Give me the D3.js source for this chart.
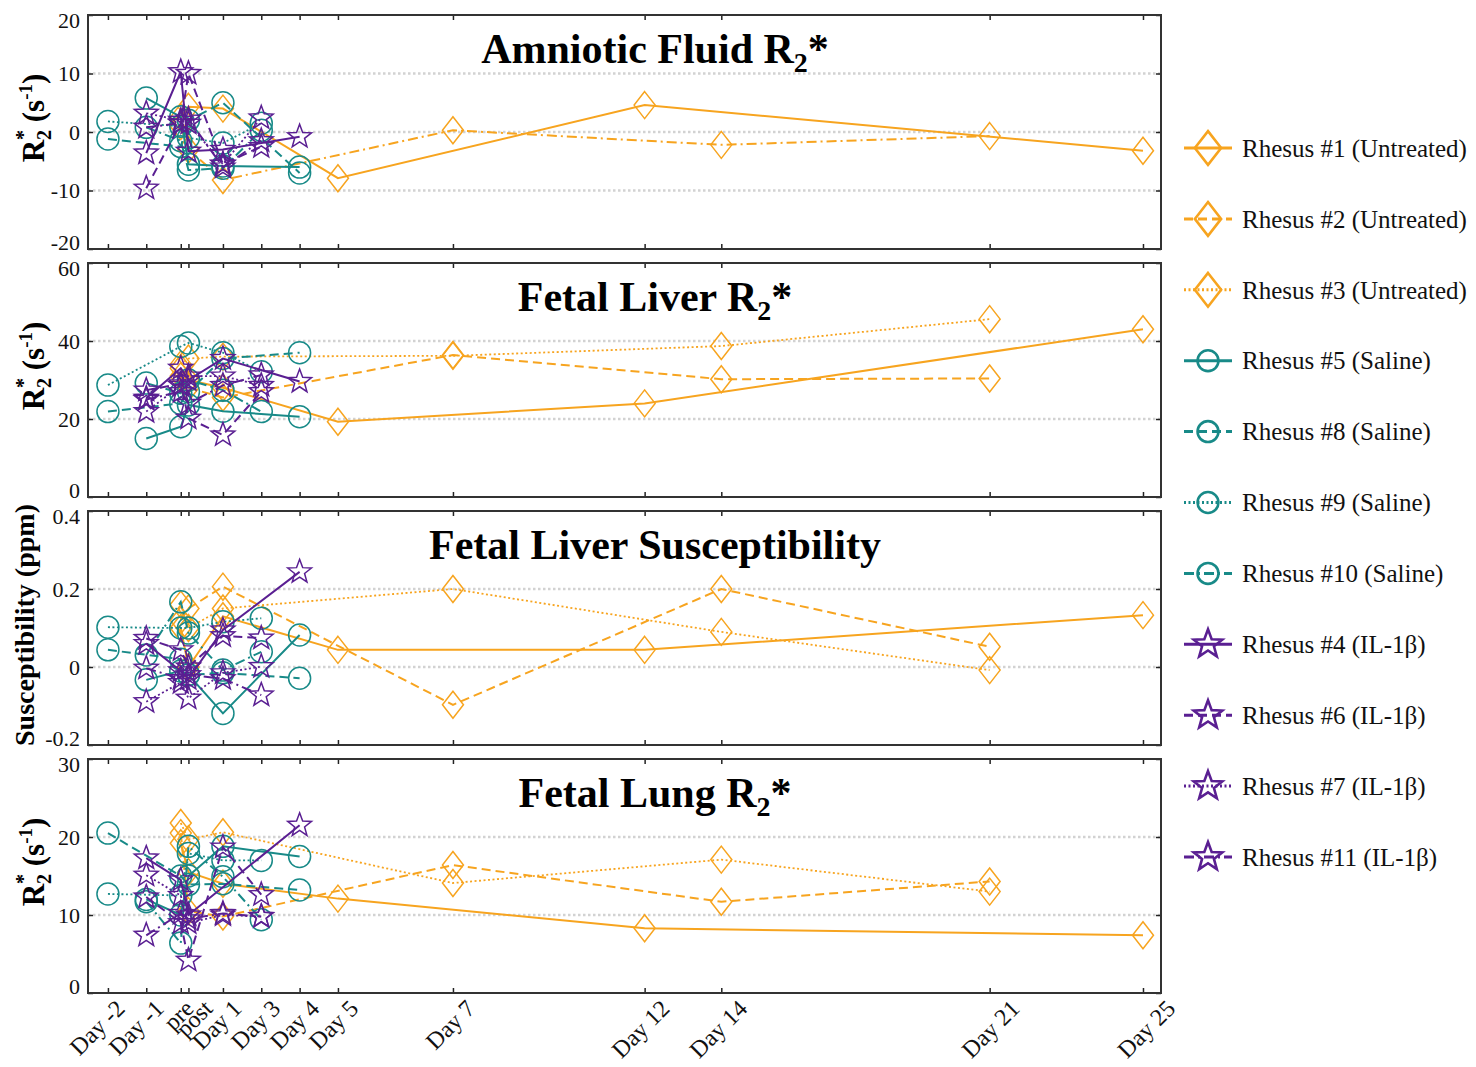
<!DOCTYPE html>
<html><head><meta charset="utf-8">
<script src="https://cdn.jsdelivr.net/npm/d3@7"></script>
<style>body{margin:0;background:#fff} svg{display:block}</style>
</head><body><svg id="c" width="1476" height="1067"></svg>
<script>
// ---------------- DATA ----------------
const dayLabels = ["Day -2","Day -1","pre","post","Day 1","Day 3","Day 4","Day 5","Day 7","Day 12","Day 14","Day 21","Day 25"];
const dayPositions = [-2,-1,-0.1,0.1,1,2,3,4,7,12,14,21,25];
const seriesNames = ["Rhesus #1 (Untreated)","Rhesus #2 (Untreated)","Rhesus #3 (Untreated)",
  "Rhesus #5 (Saline)","Rhesus #8 (Saline)","Rhesus #9 (Saline)","Rhesus #10 (Saline)",
  "Rhesus #4 (IL-1\u03b2)","Rhesus #6 (IL-1\u03b2)","Rhesus #7 (IL-1\u03b2)","Rhesus #11 (IL-1\u03b2)"];
// rows follow seriesNames; columns follow dayLabels (null = not measured)
const amnioticFluidR2 = [
  [null,null,2.5,4.3,4.0,null,null,-7.9,null,4.6,null,null,-3.2],
  [null,null,1.0,-3.0,-8.2,null,null,null,0.3,null,-2.2,-0.7,null],
  [null,null,null,null,null,null,null,null,null,null,null,null,null],
  [null,5.8,2.6,-5.5,-5.8,null,-6.0,null,null,null,null,null,null],
  [-1.2,null,-2.5,2.0,5.0,null,-7.0,null,null,null,null,null,null],
  [1.8,null,1.0,-1.0,-1.9,1.5,null,null,null,null,null,null,null],
  [null,0.8,-1.5,-6.5,-6.2,0.3,null,null,null,null,null,null,null],
  [null,-3.6,10.3,-3.3,-3.0,null,-0.8,null,null,null,null,null,null],
  [null,-9.6,1.5,10.0,-5.5,-2.5,null,null,null,null,null,null,null],
  [null,3.2,2.0,1.5,-5.5,2.4,null,null,null,null,null,null,null],
  [null,0.8,1.5,2.2,-6.0,-1.5,null,null,null,null,null,null,null]
];
const fetalLiverR2 = [
  [null,null,33,30,28,null,null,19.3,null,24,null,null,43],
  [null,null,31,28,25.5,null,null,null,36.4,null,30.2,30.4,null],
  [null,null,34,35.5,36,null,null,null,36.2,null,38.7,45.6,null],
  [null,15,18,23.6,22,null,20.6,null,null,null,null,null,null],
  [21.9,null,24,27,35.5,null,37,null,null,null,null,null,null],
  [28.7,null,38.6,39.5,37,32.1,null,null,null,null,null,null,null],
  [null,29.2,26.6,30,27.4,21.9,null,null,null,null,null,null,null],
  [null,25.3,33,30,35.5,null,29.6,null,null,null,null,null,null],
  [null,27.4,29,20.2,15.9,27,null,null,null,null,null,null,null],
  [null,21.9,28.6,31,31,28.6,null,null,null,null,null,null,null],
  [null,25,27,24,28.6,31.3,null,null,null,null,null,null,null]
];
const fetalLiverSusceptibility = [
  [null,null,0.1,0.0,0.13,null,null,0.044,null,0.044,null,null,0.133],
  [null,null,0.12,0.15,0.206,null,null,null,-0.097,null,0.2,0.052,null],
  [null,null,0.16,0.1,0.15,null,null,null,0.2,null,0.09,-0.008,null],
  [null,-0.033,-0.01,-0.02,-0.119,null,0.082,null,null,null,null,null,null],
  [0.044,null,0.02,-0.02,-0.015,null,-0.029,null,null,null,null,null,null],
  [0.102,null,0.1,0.1,0.116,0.125,null,null,null,null,null,null,null],
  [null,0.031,0.167,0.087,-0.008,0.039,null,null,null,null,null,null,null],
  [null,0.06,-0.01,-0.03,0.095,null,0.244,null,null,null,null,null,null],
  [null,0.073,0.044,0.0,0.08,0.074,null,null,null,null,null,null,null],
  [null,-0.089,-0.04,-0.08,-0.015,0.001,null,null,null,null,null,null,null],
  [null,-0.003,-0.03,-0.02,-0.03,-0.072,null,null,null,null,null,null,null]
];
const fetalLungR2 = [
  [null,null,19.2,15.5,14,null,null,12.1,null,8.3,null,null,7.4],
  [null,null,20.5,10.5,9.8,null,null,null,16.4,null,11.7,14.3,null],
  [null,null,21.8,19.7,20.6,null,null,null,14.1,null,17.1,13,null],
  [null,12,10,15,18.8,null,17.5,null,null,null,null,null,null],
  [20.5,null,15,13.9,14,null,13.2,null,null,null,null,null,null],
  [12.7,null,12.5,17.9,17,17,null,null,null,null,null,null,null],
  [null,11.7,6.4,18.8,14.9,9.4,null,null,null,null,null,null,null],
  [null,17.3,14.5,10,null,null,21.5,null,null,null,null,null,null],
  [null,12.3,9,4.2,18.7,12.6,null,null,null,null,null,null,null],
  [null,15.1,12.5,9,10,9.8,null,null,null,null,null,null,null],
  [null,7.4,10.2,9.5,10.2,9.8,null,null,null,null,null,null,null]
];
const amnioticTicks = [-20,-10,0,10,20];
const liverR2Ticks = [0,20,40,60];
const susceptibilityTicks = [-0.2,0,0.2,0.4];
const lungR2Ticks = [0,10,20,30];

// ---------------- STYLE ----------------
const ORANGE = "#F7A41F", TEAL = "#188A88", PURPLE = "#5A1F92";
const seriesColor = i => i < 3 ? ORANGE : (i < 7 ? TEAL : PURPLE);
const seriesShape = i => i < 3 ? "diamond" : (i < 7 ? "circle" : "star");
const lineKinds = [0,1,2,0,1,2,3,0,1,2,3]; // solid, dashed, dotted, dash-dot
const dashes = [null, "9,5", "2,2.5", "10,4,2,4"];
const labelNudge = {"pre": -5, "post": 6};

const panels = [
  {data: amnioticFluidR2, domain:[-20,20], ticks: amnioticTicks, title:["Amniotic Fluid R","2","*"], ylab:"r2", kindOverride:{1:3}},
  {data: fetalLiverR2, domain:[0,60], ticks: liverR2Ticks, title:["Fetal Liver R","2","*"], ylab:"r2"},
  {data: fetalLiverSusceptibility, domain:[-0.2,0.4], ticks: susceptibilityTicks, title:["Fetal Liver Susceptibility"], ylab:"sus"},
  {data: fetalLungR2, domain:[0,30], ticks: lungR2Ticks, title:["Fetal Lung R","2","*"], ylab:"r2"}
];

const svg = d3.select("#c");
const X0 = 88, X1 = 1161;
const x = d3.scaleLinear().domain([-2.52, 25.47]).range([X0, X1]);
// rotated day labels drift slightly right of their ticks across the axis
const xLabel = d3.scaleLinear().domain(x.domain()).range([X0 + 18, X1 + 34]);
const panelTop = [15, 263, 511, 759], panelH = 234;
const SERIF = "'Liberation Serif','Times New Roman',serif";

function markerPath(shape, s) {
  if (shape === "diamond") { const w = 10.5*s, h = 13.5*s; return `M0,${-h}L${w},0L0,${h}L${-w},0Z`; }
  if (shape === "circle") { const r = 11*s; return `M${r},0A${r},${r} 0 1,1 ${-r},0A${r},${r} 0 1,1 ${r},0Z`; }
  const R = 12.5*s, r = 5.2*s; let p = "";
  for (let k = 0; k < 10; k++) {
    const a = -Math.PI/2 + k*Math.PI/5, rr = k%2 ? r : R;
    p += (k ? "L" : "M") + (rr*Math.cos(a)).toFixed(2) + "," + (rr*Math.sin(a)).toFixed(2);
  }
  return p + "Z";
}

panels.forEach((p, pi) => {
  const top = panelTop[pi], bot = top + panelH;
  const y = d3.scaleLinear().domain(p.domain).range([bot, top]);
  const g = svg.append("g");
  // grid
  g.selectAll(".grid").data(p.ticks.filter(t => t > p.domain[0] && t < p.domain[1])).join("line")
    .attr("x1", X0).attr("x2", X1).attr("y1", d => y(d)).attr("y2", d => y(d))
    .attr("stroke", "#d2d2d2").attr("stroke-width", 2.6).attr("stroke-dasharray", "2.5,2.5");
  // axes ticks
  const fmt = d => String(d);
  const la = g.append("g").attr("transform", `translate(${X0},0)`)
    .call(d3.axisLeft(y).tickValues(p.ticks).tickSize(-5).tickPadding(8).tickFormat(fmt));
  la.select(".domain").remove();
  la.selectAll("text").attr("font-family", SERIF).attr("font-size", 22).attr("fill", "#111")
    .attr("dy", d => d === p.domain[1] ? "0.55em" : (d === p.domain[0] ? "0.0em" : "0.32em"));
  la.selectAll("line").attr("stroke", "#222").attr("stroke-width", 1.5);
  const ra = g.append("g").attr("transform", `translate(${X1},0)`)
    .call(d3.axisRight(y).tickValues(p.ticks).tickSize(-5).tickFormat(""));
  ra.select(".domain").remove(); ra.selectAll("line").attr("stroke", "#222").attr("stroke-width", 1.5);
  const ba = g.append("g").attr("transform", `translate(0,${bot})`)
    .call(d3.axisBottom(x).tickValues(dayPositions).tickSize(-5).tickFormat(""));
  ba.select(".domain").remove(); ba.selectAll("line").attr("stroke", "#222").attr("stroke-width", 1.5);
  const ta = g.append("g").attr("transform", `translate(0,${top})`)
    .call(d3.axisTop(x).tickValues(dayPositions).tickSize(-5).tickFormat(""));
  ta.select(".domain").remove(); ta.selectAll("line").attr("stroke", "#222").attr("stroke-width", 1.5);

  // series
  const line = d3.line().x(d => x(d.x)).y(d => y(d.v));
  p.data.forEach((row, si) => {
    const pts = row.map((v, j) => ({x: dayPositions[j], v})).filter(d => d.v !== null);
    if (!pts.length) return;
    const kind = (p.kindOverride && p.kindOverride[si] !== undefined) ? p.kindOverride[si] : lineKinds[si];
    g.append("path").attr("d", line(pts)).attr("fill", "none")
      .attr("stroke", seriesColor(si)).attr("stroke-width", kind === 2 ? 1.8 : 2)
      .attr("stroke-dasharray", dashes[kind]);
    g.selectAll(null).data(pts).join("path")
      .attr("transform", d => `translate(${x(d.x)},${y(d.v)})`)
      .attr("d", markerPath(seriesShape(si), 1)).attr("fill", "none")
      .attr("stroke", seriesColor(si)).attr("stroke-width", 1.5);
  });

  // frame
  g.append("rect").attr("x", X0).attr("y", top).attr("width", X1 - X0).attr("height", panelH)
    .attr("fill", "none").attr("stroke", "#333").attr("stroke-width", 2);

  // title
  const t = g.append("text").attr("x", 655).attr("y", top + 48).attr("text-anchor", "middle")
    .attr("font-family", SERIF).attr("font-weight", "bold").attr("font-size", 42).attr("fill", "#000");
  t.append("tspan").text(p.title[0]);
  if (p.title.length > 1) {
    t.append("tspan").attr("font-size", 28).attr("dy", 9).text(p.title[1]);
    t.append("tspan").attr("dy", -9).text(p.title[2]);
  }

  // y label
  const yl = g.append("text")
    .attr("transform", p.ylab === "sus" ? `translate(34,${top + panelH/2 - 3}) rotate(-90)` : `translate(44,${top + panelH/2 - 14}) rotate(-90)`)
    .attr("text-anchor", "middle").attr("font-family", SERIF).attr("font-weight", "bold").attr("fill", "#000");
  if (p.ylab === "sus") {
    yl.attr("font-size", 28).text("Susceptibility (ppm)");
  } else {
    yl.attr("font-size", 31);
    yl.append("tspan").text("R");
    yl.append("tspan").attr("font-size", 20).attr("dy", 7).text("2");
    yl.append("tspan").attr("font-size", 20).attr("dx", -10).attr("dy", -21).text("*");
    yl.append("tspan").attr("dy", 14).text(" (s");
    yl.append("tspan").attr("font-size", 19).attr("dy", -12).text("-1");
    yl.append("tspan").attr("dy", 12).text(")");
  }

  // x labels on last panel
  if (pi === panels.length - 1) {
    g.selectAll(null).data(dayLabels).join("text")
      .attr("transform", (d, j) => `translate(${xLabel(dayPositions[j]) + (labelNudge[d] || 0)},${bot + 17}) rotate(-45)`)
      .attr("text-anchor", "end").attr("font-family", SERIF).attr("font-size", 24).attr("fill", "#111")
      .text(d => d);
  }
});

// legend
const lg = svg.append("g");
seriesNames.forEach((name, i) => {
  const cy = 148 + i * 70.9;
  const kind = lineKinds[i];
  lg.append("line").attr("x1", 1184).attr("x2", 1232).attr("y1", cy).attr("y2", cy)
    .attr("stroke", seriesColor(i)).attr("stroke-width", 3).attr("stroke-dasharray", dashes[kind]);
  lg.append("path").attr("transform", `translate(1208,${cy})`)
    .attr("d", markerPath(seriesShape(i), seriesShape(i) === "diamond" ? 1.25 : (seriesShape(i) === "circle" ? 0.95 : 1.2)))
    .attr("fill", "none").attr("stroke", seriesColor(i)).attr("stroke-width", 2.6);
  lg.append("text").attr("x", 1242).attr("y", cy).attr("dy", "0.35em")
    .attr("font-family", SERIF).attr("font-size", 25).attr("fill", "#111").text(name);
});
</script></body></html>
